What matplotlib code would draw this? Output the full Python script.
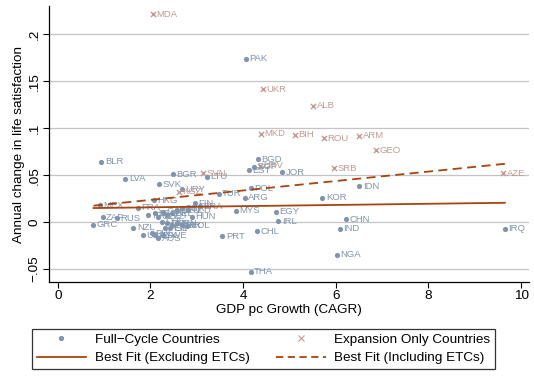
import matplotlib
matplotlib.use("Agg")
import matplotlib.pyplot as plt
from matplotlib.lines import Line2D

plt.rcParams['font.family'] = ['Liberation Sans', 'DejaVu Sans']

# Full-cycle countries (GDP pc CAGR, annual change in life satisfaction)
fc_names = ["PAK", "BLR", "LVA", "BGR", "LTU", "SVK", "URY", "HKG", "MEX", "FRA",
            "ZAF", "RUS", "GRC", "NZL", "USA", "SWE", "AUS", "PRT", "TUR", "MYS",
            "ARG", "POL", "BGD", "EST", "SGP", "JOR", "IDN", "KOR", "EGY", "IRL",
            "CHN", "IND", "IRQ", "NGA", "CHL", "THA",
            "ITA", "ESP", "CZE", "CAN", "AUT", "BEL", "DEU", "GBR", "NLD", "FIN",
            "BRA", "HUN", "CHE", "DNK", "NOR", "JPN", "ISR", "COL", "PER", "ISL",
            "LUX", "PHL"]
fc_x = [4.06, 0.94, 1.46, 2.49, 3.21, 2.18, 2.68, 2.07, 0.91, 1.72,
        0.97, 1.28, 0.77, 1.63, 1.84, 2.26, 2.17, 3.55, 3.47, 3.85,
        4.03, 4.17, 4.32, 4.12, 4.24, 4.84, 6.51, 5.71, 4.70, 4.76,
        6.23, 6.09, 9.65, 6.02, 4.31, 4.16,
        1.95, 2.10, 2.17, 2.28, 2.35, 2.46, 2.57, 2.67, 2.82, 2.96,
        3.07, 2.89, 2.24, 2.35, 2.46, 2.57, 2.67, 2.78, 2.31, 2.42,
        2.10, 2.03]
fc_y = [0.174, 0.064, 0.046, 0.051, 0.048, 0.040, 0.035, 0.023, 0.018, 0.015,
        0.005, 0.004, -0.003, -0.006, -0.014, -0.014, -0.017, -0.015, 0.030, 0.012,
        0.026, 0.036, 0.067, 0.055, 0.059, 0.053, 0.038, 0.026, 0.011, 0.001,
        0.003, -0.007, -0.007, -0.035, -0.010, -0.053,
        0.0074, 0.0096, 0.0056, 0.011, 0.0074, 0.0093, 0.0128, 0.0146, 0.0128, 0.020,
        0.017, 0.0056, 0.0003, -0.0014, -0.0032, -0.0014, -0.0032, -0.0039, -0.0067, -0.0067,
        -0.0138, -0.012]

# Expansion only countries
eo_names = ["MDA", "UKR", "ALB", "MKD", "BIH", "ROU", "ARM", "GEO", "SRB", "AZE",
            "SVN", "KGZ", "HRV"]
eo_x = [2.05, 4.43, 5.51, 4.39, 5.12, 5.75, 6.51, 6.86, 5.97, 9.61,
        3.13, 2.62, 4.37]
eo_y = [0.221, 0.1415, 0.124, 0.094, 0.093, 0.089, 0.092, 0.0766, 0.057, 0.052,
        0.052, 0.032, 0.060]

# Best-fit lines (end points)
fit_x = [0.77, 9.65]
fit_excl = [0.0149, 0.0205]
fit_incl = [0.0174, 0.0620]

c_fc = "#8094ad"
c_eo = "#c29a93"
c_fit = "#a9430f"

fig = plt.figure(figsize=(5.34, 3.81), dpi=100)
ax = fig.add_axes([0.0918, 0.2598, 0.8988, 0.7242])

ax.set_xlim(-0.19, 10.17)
ax.set_ylim(-0.0638, 0.2298)

yt = [-0.05, 0, 0.05, 0.1, 0.15, 0.2]
ax.set_yticks(yt)
ax.set_yticklabels(["\u2212.05", "0", ".05", ".1", ".15", ".2"], rotation=90,
                   va="center", fontsize=9.7)
ax.set_xticks([0, 2, 4, 6, 8, 10])
ax.tick_params(axis='x', labelsize=9.7, length=4, width=0.8, pad=2)
ax.tick_params(axis='y', length=4, width=0.8, pad=2)
for y in yt:
    ax.axhline(y, color="#c4c4c4", lw=0.9, zorder=0)

for s in ["top", "right"]:
    ax.spines[s].set_visible(False)
for s in ["left", "bottom"]:
    ax.spines[s].set_linewidth(0.9)

ax.scatter(fc_x, fc_y, s=14, color=c_fc, marker="o", linewidths=0, zorder=3)
ax.scatter(eo_x, eo_y, s=14, color=c_eo, marker="x", linewidths=1.0, zorder=3)
for n, x, y in zip(fc_names, fc_x, fc_y):
    ax.annotate(n, (x, y), xytext=(2.5, 0), textcoords="offset points",
                va="center", ha="left", fontsize=6.8, color=c_fc, zorder=3)
for n, x, y in zip(eo_names, eo_x, eo_y):
    ax.annotate(n, (x, y), xytext=(2.5, 0), textcoords="offset points",
                va="center", ha="left", fontsize=6.8, color=c_eo, zorder=3)

ax.plot(fit_x, fit_excl, color=c_fit, lw=1.3, zorder=4)
ax.plot(fit_x, fit_incl, color=c_fit, lw=1.3, ls=(0, (5, 3)), zorder=4)

ax.set_xlabel("GDP pc Growth (CAGR)", fontsize=9.7, labelpad=1)
ax.set_ylabel("Annual change in life satisfaction", fontsize=9.7, labelpad=3)

handles = [
    Line2D([], [], ls="none", marker="o", ms=3.8, mec="none", color=c_fc),
    Line2D([], [], ls="none", marker="x", ms=3.8, mew=0.8, color=c_eo),
    Line2D([], [], color=c_fit, lw=1.3),
    Line2D([], [], color=c_fit, lw=1.3, ls=(0, (4, 2.5))),
]
labels = ["Full\u2212Cycle Countries", "Expansion Only Countries",
          "Best Fit (Excluding ETCs)", "Best Fit (Including ETCs)"]
order = [0, 2, 1, 3]
leg = fig.legend([handles[i] for i in order], [labels[i] for i in order],
                 ncol=2, loc="center", bbox_to_anchor=(0.4934, 0.084),
                 fontsize=9.7, frameon=True, fancybox=False, handlelength=3.7,
                 handletextpad=0.6, columnspacing=2.0, labelspacing=0.45,
                 borderpad=0.35)
leg.get_frame().set_edgecolor("black")
leg.get_frame().set_linewidth(0.9)

fig.savefig("out.png", dpi=100)
